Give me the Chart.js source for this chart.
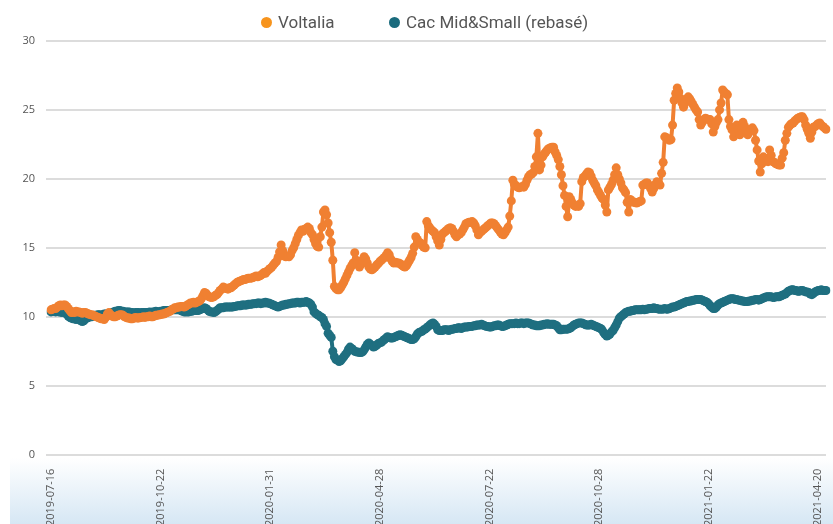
<!DOCTYPE html>
<html>
<head>
<meta charset="utf-8">
<script src="https://cdn.jsdelivr.net/npm/chart.js@4.4.1/dist/chart.umd.min.js"></script>
<style>
  html, body { margin: 0; padding: 0; background: #ffffff; }
  #wrap { position: relative; width: 833px; height: 524px; overflow: hidden; }
  #band { position: absolute; left: 10px; top: 458px; width: 823px; height: 66px;
          background: linear-gradient(to bottom, #ffffff 0%, #d6e7f4 100%); }
  #cv { position: absolute; left: 0; top: 0; }
  .lg { position: absolute; top: 11px; font-family: Roboto, sans-serif; font-size: 17px; color: #555;
        line-height: 22px; white-space: nowrap; }
  .dot { position: absolute; width: 11px; height: 11px; border-radius: 50%; top: 17px; }
</style>
</head>
<body>
<div id="wrap">
  <div id="band"></div>
  <canvas id="cv" width="833" height="532"></canvas>
  <div class="dot" id="d0" style="left:260.5px;"></div>
  <div class="lg" id="l0" style="left:278px;"></div>
  <div class="dot" id="d1" style="left:388.5px;"></div>
  <div class="lg" id="l1" style="left:406px;"></div>
</div>
<script>
// ---- data ----
const seriesNames = ['Voltalia', 'Cac Mid&Small (rebasé)'];
const seriesColors = ['#F08032', '#1F6F80'];
const legendColors = ['#F7941D', '#1A6B7D'];
const tickDates = ['2019-07-16','2019-10-22','2020-01-31','2020-04-28','2020-07-22','2020-10-28','2021-01-22','2021-04-20'];
const tickStep = 70;

const voltalia = [
10.5,10.55,10.6,10.6,10.7,10.8,10.85,10.8,10.85,10.85,
10.75,10.6,10.45,10.3,10.35,10.3,10.4,10.35,10.35,10.3,
10.25,10.3,10.3,10.25,10.2,10.15,10.15,10.1,10.05,10.0,
9.95,9.9,9.85,9.85,9.8,9.95,10.2,10.3,10.15,10.05,
10.0,10.0,10.05,10.1,10.15,10.15,10.1,10.0,9.95,9.9,
9.9,9.85,9.85,9.9,9.95,9.9,9.9,9.95,9.95,10.0,
9.95,10.0,10.0,10.05,10.0,10.0,10.05,10.1,10.1,10.15,
10.15,10.2,10.2,10.25,10.3,10.35,10.4,10.5,10.55,10.65,
10.65,10.7,10.7,10.75,10.75,10.7,10.75,10.85,10.9,11.0,
11.0,11.05,11.0,11.05,11.1,11.15,11.3,11.5,11.75,11.7,
11.55,11.45,11.4,11.4,11.45,11.55,11.6,11.75,11.9,12.0,
12.15,12.1,12.05,12.0,12.1,12.1,12.2,12.3,12.4,12.5,
12.55,12.6,12.65,12.7,12.7,12.75,12.8,12.8,12.8,12.85,
12.9,12.95,12.9,12.95,13.0,13.1,13.2,13.15,13.3,13.4,
13.5,13.6,13.75,13.9,14.0,14.3,14.7,15.2,14.8,14.4,
14.35,14.4,14.35,14.5,14.8,15.0,15.3,15.6,15.9,16.1,
16.3,16.2,16.35,16.4,16.5,16.4,16.1,15.95,15.6,15.3,
15.1,15.05,15.8,16.5,17.6,17.75,17.4,16.8,16.1,15.4,
14.1,12.2,12.05,11.95,11.95,12.1,12.3,12.5,12.75,13.0,
13.25,13.5,13.7,13.9,14.65,14.1,13.8,13.6,13.8,14.1,
14.35,14.2,13.9,13.6,13.45,13.4,13.5,13.6,13.75,13.85,
14.0,14.1,14.2,14.3,14.45,14.65,14.5,14.2,14.0,13.9,
13.95,13.9,13.9,13.85,13.75,13.65,13.6,13.7,13.9,14.1,
14.3,14.6,15.05,15.8,15.6,15.4,15.35,15.2,15.05,15.0,
16.9,16.6,16.45,16.3,16.2,16.1,15.8,15.5,15.2,15.6,
16.0,16.1,16.2,16.3,16.4,16.45,16.4,16.2,15.95,15.8,
15.95,16.0,16.1,16.3,16.5,16.75,16.8,16.85,16.85,16.9,
16.8,16.6,16.3,15.95,16.1,16.2,16.3,16.4,16.5,16.6,
16.7,16.8,16.8,16.75,16.6,16.45,16.3,16.15,16.0,15.95,
16.1,16.3,16.5,17.3,18.4,19.9,19.6,19.5,19.4,19.35,
19.4,19.45,19.4,19.6,19.9,20.15,20.3,20.35,20.45,20.9,
21.6,23.3,20.65,21.0,21.6,21.8,21.95,22.1,22.2,22.25,
22.3,22.3,21.95,21.7,21.4,20.9,20.3,19.5,18.8,18.0,
17.25,18.7,18.5,18.25,18.1,18.0,18.05,18.0,18.2,19.8,
20.1,20.2,20.35,20.5,20.45,20.2,19.9,19.7,19.5,19.2,
19.0,18.8,18.6,18.5,18.1,17.6,19.2,19.4,19.6,19.9,
20.3,20.8,20.3,20.0,19.7,19.35,19.2,19.0,18.3,17.6,
18.5,18.4,18.3,18.3,18.25,18.3,18.35,18.4,19.55,19.6,
19.7,19.7,19.5,19.3,19.05,19.3,19.6,19.8,19.7,19.55,
20.4,21.2,23.05,23.0,22.9,22.8,22.85,23.9,25.7,26.2,
26.6,26.3,25.85,25.5,25.2,25.5,25.8,25.95,25.8,25.6,
25.4,25.2,25.0,24.85,24.3,23.9,24.1,24.3,24.4,24.35,
24.3,24.3,24.0,23.4,23.8,24.1,24.3,25.0,25.5,26.45,
26.3,26.2,26.1,24.3,23.8,23.55,23.05,23.4,23.9,23.6,
23.2,23.6,24.1,23.8,23.5,23.2,23.4,23.6,23.7,23.5,
22.8,22.1,21.3,20.5,21.1,21.6,21.5,21.3,21.25,22.1,
21.7,21.25,21.2,21.1,21.05,21.0,21.0,21.5,21.9,22.8,
23.3,23.75,23.9,24.0,24.05,24.2,24.3,24.4,24.45,24.5,
24.5,24.3,23.9,23.6,23.3,22.95,23.4,23.75,23.8,23.9,
24.0,24.05,23.9,23.8,23.7,23.6
];

const cacMidSmall = [
10.35,10.4,10.4,10.35,10.4,10.35,10.35,10.3,10.35,10.3,
10.2,10.05,9.95,9.9,9.85,9.85,9.8,9.85,9.8,9.7,
9.65,9.7,9.85,9.9,9.95,10.0,10.0,10.05,10.1,10.1,
10.15,10.15,10.1,10.15,10.2,10.2,10.15,10.2,10.25,10.3,
10.35,10.4,10.4,10.45,10.45,10.4,10.4,10.35,10.35,10.35,
10.35,10.3,10.3,10.25,10.3,10.3,10.3,10.25,10.3,10.3,
10.3,10.3,10.3,10.35,10.3,10.35,10.35,10.4,10.35,10.35,
10.4,10.4,10.45,10.45,10.45,10.45,10.45,10.5,10.5,10.5,
10.5,10.5,10.5,10.45,10.4,10.35,10.35,10.35,10.35,10.4,
10.4,10.45,10.45,10.45,10.45,10.5,10.55,10.6,10.65,10.6,
10.5,10.4,10.35,10.35,10.3,10.35,10.45,10.55,10.65,10.65,
10.65,10.7,10.7,10.7,10.7,10.7,10.7,10.75,10.75,10.8,
10.8,10.8,10.85,10.85,10.85,10.85,10.9,10.9,10.9,10.95,
10.95,10.95,11.0,11.0,10.95,11.0,11.0,11.05,11.0,11.0,
10.95,10.9,10.85,10.8,10.75,10.7,10.75,10.8,10.85,10.85,
10.9,10.9,10.95,10.95,11.0,11.0,11.0,11.05,11.05,11.0,
11.05,11.05,11.05,11.1,11.05,11.0,10.9,10.7,10.35,10.25,
10.15,10.1,10.0,9.95,9.8,9.5,9.3,8.8,8.65,8.5,
7.5,7.1,6.9,6.85,6.75,6.8,6.95,7.1,7.25,7.4,
7.65,7.8,7.7,7.6,7.5,7.45,7.45,7.4,7.4,7.45,
7.6,7.8,8.0,8.1,8.0,7.9,7.8,7.85,7.95,8.05,
8.1,8.15,8.25,8.35,8.45,8.55,8.5,8.45,8.45,8.5,
8.55,8.6,8.65,8.7,8.65,8.6,8.55,8.5,8.45,8.4,
8.35,8.35,8.4,8.55,8.75,8.85,8.9,8.95,9.05,9.1,
9.2,9.3,9.4,9.5,9.55,9.45,9.3,9.05,9.0,9.0,
9.0,9.05,9.05,9.05,9.0,9.05,9.1,9.1,9.15,9.15,
9.2,9.2,9.15,9.2,9.25,9.25,9.25,9.3,9.3,9.3,
9.35,9.35,9.4,9.4,9.4,9.45,9.4,9.35,9.3,9.3,
9.25,9.25,9.3,9.35,9.35,9.4,9.4,9.35,9.3,9.3,
9.35,9.4,9.45,9.5,9.5,9.5,9.5,9.55,9.5,9.5,
9.55,9.55,9.5,9.55,9.55,9.55,9.5,9.45,9.4,9.4,
9.35,9.35,9.35,9.4,9.4,9.45,9.45,9.5,9.45,9.45,
9.45,9.45,9.4,9.35,9.2,9.05,9.05,9.1,9.1,9.1,
9.1,9.15,9.2,9.3,9.4,9.45,9.5,9.55,9.55,9.55,
9.5,9.45,9.4,9.4,9.4,9.45,9.4,9.35,9.3,9.25,
9.2,9.15,9.05,8.85,8.7,8.6,8.65,8.75,8.9,9.0,
9.2,9.4,9.65,9.9,10.0,10.1,10.2,10.3,10.35,10.4,
10.4,10.45,10.45,10.5,10.5,10.5,10.5,10.5,10.55,10.5,
10.55,10.55,10.6,10.6,10.6,10.65,10.6,10.6,10.55,10.55,
10.55,10.55,10.6,10.55,10.55,10.6,10.65,10.7,10.7,10.75,
10.8,10.85,10.9,10.95,11.0,11.05,11.1,11.1,11.15,11.15,
11.2,11.2,11.25,11.25,11.25,11.25,11.2,11.15,11.1,11.05,
10.95,10.8,10.7,10.6,10.6,10.7,10.85,10.95,11.0,11.05,
11.1,11.15,11.2,11.25,11.3,11.3,11.3,11.25,11.25,11.2,
11.2,11.15,11.15,11.1,11.1,11.1,11.15,11.15,11.2,11.2,
11.25,11.25,11.2,11.25,11.3,11.35,11.4,11.45,11.45,11.45,
11.45,11.4,11.4,11.45,11.45,11.45,11.5,11.55,11.6,11.65,
11.75,11.85,11.9,11.95,11.95,11.9,11.9,11.85,11.85,11.9,
11.9,11.85,11.8,11.8,11.75,11.65,11.6,11.7,11.8,11.85,
11.9,11.9,11.95,11.9,11.9,11.9
];

// category labels: a date every tickStep points
const categories = voltalia.map((_, i) => (i % tickStep === 0 ? (tickDates[i / tickStep] || '') : ''));

// HTML legend (real text)
document.getElementById('l0').textContent = seriesNames[0];
document.getElementById('l1').textContent = seriesNames[1];
document.getElementById('d0').style.background = legendColors[0];
document.getElementById('d1').style.background = legendColors[1];

const mkDs = (label, data, color) => ({
  label, data,
  borderColor: color, backgroundColor: color,
  pointBackgroundColor: color, pointBorderColor: color,
  borderWidth: 4, pointRadius: 4.5, pointBorderWidth: 0,
  borderJoinStyle: 'round', borderCapStyle: 'round',
  tension: 0, fill: false
});

new Chart(document.getElementById('cv'), {
  type: 'line',
  data: {
    labels: categories,
    datasets: [
      mkDs(seriesNames[0], voltalia, seriesColors[0]),
      mkDs(seriesNames[1], cacMidSmall, seriesColors[1])
    ]
  },
  options: {
    responsive: false,
    animation: false,
    events: [],
    layout: { padding: { top: 41, right: 0, left: 0, bottom: 0 } },
    plugins: { legend: { display: false }, tooltip: { enabled: false } },
    scales: {
      x: {
        type: 'category',
        offset: false,
        grid: { display: false },
        border: { display: false },
        ticks: {
          autoSkip: false,
          minRotation: 90, maxRotation: 90,
          padding: 6,
          color: '#555',
          font: { family: '"Open Sans", sans-serif', size: 11 },
          callback: function (v, i) { return categories[i]; }
        },
        afterFit: function (s) { s.paddingRight = 7; s.paddingLeft = 0; }
      },
      y: {
        min: 0, max: 30,
        border: { display: false },
        grid: { color: '#dcdcdc', lineWidth: 2, tickLength: 5, drawTicks: true, tickColor: '#dcdcdc' },
        ticks: {
          stepSize: 5, padding: 11, color: '#555',
          font: { family: '"Open Sans", sans-serif', size: 11 }
        },
        afterFit: function (s) { s.width = 51; }
      }
    }
  }
});
</script>
</body>
</html>
